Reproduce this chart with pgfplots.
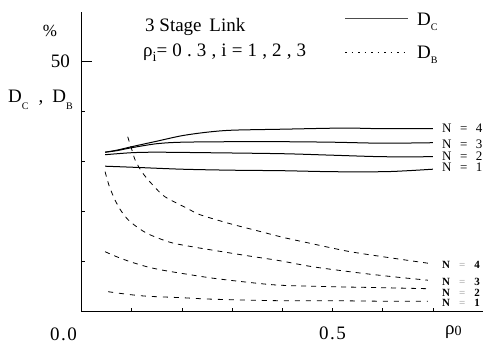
\documentclass[border=0pt]{standalone}
\usepackage{fontspec}
\setmainfont{Liberation Serif}
\usepackage{pgfplots}
\pgfplotsset{compat=1.18}

\newcommand{\bigfont}{\fontsize{19bp}{21bp}\selectfont}
\newcommand{\subtxt}[2]{\raisebox{#1}{\fontsize{10bp}{10bp}\selectfont #2}}

\begin{document}
\begin{tikzpicture}[x=1bp,y=1bp]
\path[use as bounding box] (-81.5,-32.3) rectangle (412.5,311.7);
\begin{axis}[
  at={(0,0)}, anchor=south west,
  scale only axis, width=401.6bp, height=300bp,
  xmin=0, xmax=0.8, ymin=0, ymax=60,
  axis lines*=left,
  axis line style={line width=1.3bp, black},
  tick align=inside,
  major tick length=4bp,
  tick style={line width=0.8bp, black},
  xtick={0.1,0.2,0.3,0.4,0.5,0.6,0.7},
  xticklabels={{},{},{},{},{0\hspace{1.5bp}.\hspace{1.5bp}5},{},{}},
  ytick={10,20,30,40}, yticklabels={},
  extra y ticks={50}, extra y tick labels={50},
  extra y tick style={major tick length=10bp},
  ticklabel style={font=\bigfont},
  xticklabel style={yshift=-12bp},
  yticklabel style={xshift=-8bp},
  clip=false,
]
% D_C (solid)
\addplot[black, line width=1bp, smooth, tension=0.5] coordinates {
 (0.047,31.9) (0.07,32.3) (0.1,33.0) (0.15,34.1) (0.2,35.2) (0.25,35.9) (0.3,36.3) (0.4,36.5) (0.5,36.7) (0.55,36.7) (0.6,36.6) (0.7,36.6)};
\addplot[black, line width=1bp, smooth, tension=0.5] coordinates {
 (0.047,31.9) (0.07,32.2) (0.1,32.8) (0.15,33.6) (0.2,33.9) (0.3,34.0) (0.4,34.0) (0.5,33.9) (0.6,33.7) (0.7,33.8)};
\addplot[black, line width=1bp, smooth, tension=0.5] coordinates {
 (0.047,31.4) (0.1,31.8) (0.15,31.9) (0.25,31.8) (0.4,31.6) (0.5,31.3) (0.6,31.0) (0.7,31.0)};
\addplot[black, line width=1bp, smooth, tension=0.5] coordinates {
 (0.047,29.1) (0.1,28.9) (0.2,28.5) (0.3,28.3) (0.4,28.2) (0.5,28.0) (0.6,28.0) (0.65,28.2) (0.7,28.5)};
% D_B (dashed)
\addplot[black, line width=0.8bp, dash pattern=on 5bp off 5bp, smooth, tension=0.5] coordinates {
 (0.092,35.0) (0.1,32.5) (0.107,30.3) (0.12,28.0) (0.136,26.0) (0.162,23.3) (0.186,21.9) (0.212,20.6) (0.236,19.4) (0.296,17.6) (0.35,16.2) (0.4,14.9) (0.45,13.8) (0.53,12.1) (0.6,11.0) (0.69,9.7)};
\addplot[black, line width=0.8bp, dash pattern=on 5bp off 5bp, smooth, tension=0.5] coordinates {
 (0.047,28.0) (0.055,25.2) (0.067,22.3) (0.08,20.0) (0.097,18.0) (0.13,15.7) (0.176,13.9) (0.22,13.0) (0.262,12.3) (0.33,11.2) (0.395,10.2) (0.46,9.0) (0.55,7.8) (0.62,7.0) (0.69,6.3)};
\addplot[black, line width=0.8bp, dash pattern=on 5bp off 5bp, smooth, tension=0.5] coordinates {
 (0.047,12.0) (0.07,11.0) (0.097,10.0) (0.13,9.0) (0.162,8.3) (0.21,7.5) (0.262,6.7) (0.33,5.9) (0.395,5.3) (0.5,5.0) (0.6,4.8) (0.69,4.6)};
\addplot[black, line width=0.8bp, dash pattern=on 5bp off 6bp, smooth, tension=0.5] coordinates {
 (0.053,4.0) (0.09,3.5) (0.13,3.1) (0.2,2.8) (0.262,2.5) (0.395,2.2) (0.5,2.2) (0.6,2.1) (0.69,2.1)};
\end{axis}
% texts
\node[font=\fontsize{17bp}{17bp}\selectfont, inner sep=0] at (-31.5,280.7) {\%};
\node[font=\bigfont, anchor=base west, inner sep=0] at (-73.5,209.7)
  {D\subtxt{-7bp}{C}\hspace{10bp},\hspace{9bp}D\subtxt{-7bp}{B}};
\node[font=\bigfont, anchor=base west, inner sep=0] at (-31.5,-28.3) {0\hspace{1.5bp}.\hspace{1.5bp}0};
\node[font=\bigfont, anchor=base west, inner sep=0] at (363.5,-22.3) {ρ\raisebox{-1bp}{\fontsize{14bp}{14bp}\selectfont 0}};
\node[font=\bigfont, anchor=base west, inner sep=0] at (63.5,280) {3 Stage\hspace{3bp} Link};
\node[font=\bigfont, anchor=base west, inner sep=0] at (61.5,255)
  {\addfontfeatures{LetterSpace=27}ρ\raisebox{-5bp}{\fontsize{14bp}{14bp}\selectfont i}=0.3,i=1,2,3};
% legend
\draw[line width=0.8bp, black!70] (263.5,293.7) -- (326.5,293.7);
\node[font=\bigfont, anchor=base west, inner sep=0] at (335.5,286.7) {D\subtxt{-5bp}{C}};
\draw[line width=0.8bp, black, dash pattern=on 1.5bp off 5bp] (263.5,259.7) -- (326.5,259.7);
\node[font=\bigfont, anchor=base west, inner sep=0] at (335.5,253.7) {D\subtxt{-5bp}{B}};
% N labels (solid)
\begin{scope}[every node/.style={font=\fontsize{13bp}{13bp}\selectfont, anchor=west, inner sep=0}]
\node at (360.5,183.7) {N\hspace{8.5bp}=\hspace{8.5bp}4};
\node at (360.5,167.7) {N\hspace{8.5bp}=\hspace{8.5bp}3};
\node at (360.5,155.7) {N\hspace{8.5bp}=\hspace{8.5bp}2};
\node at (360.5,144.2) {N\hspace{8.5bp}=\hspace{8.5bp}1};
\end{scope}
% N labels (dashed)
\begin{scope}[every node/.style={font=\fontsize{11bp}{11bp}\selectfont\bfseries, anchor=west, inner sep=0}]
\node at (360.5,46.7) {N\hspace{9bp}{\color{black!40}\mdseries=}\hspace{9bp}4};
\node at (360.5,29.7) {N\hspace{9bp}{\color{black!40}\mdseries=}\hspace{9bp}3};
\node at (360.5,19.2) {N\hspace{9bp}{\color{black!40}\mdseries=}\hspace{9bp}2};
\node at (360.5,8.7) {N\hspace{9bp}{\color{black!40}\mdseries=}\hspace{9bp}1};
\end{scope}
\end{tikzpicture}
\end{document}
